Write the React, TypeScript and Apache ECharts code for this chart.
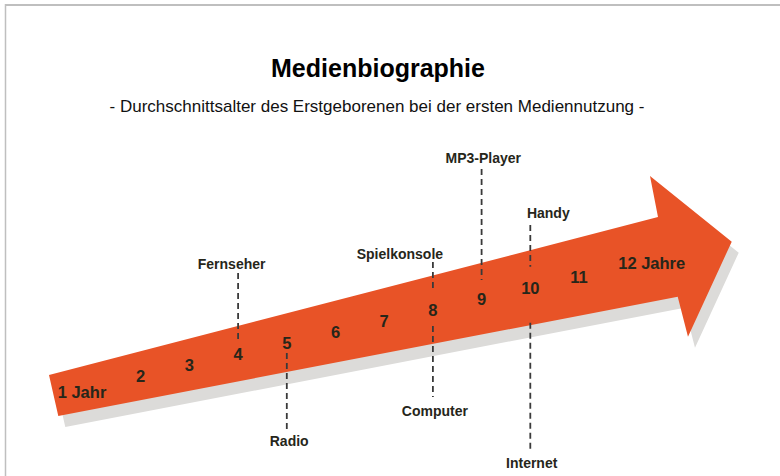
import React, { useEffect, useRef } from "react";
import * as echarts from "echarts";

// ---- data ----
const ages = [1, 2, 3, 4, 5, 6, 7, 8, 9, 10, 11, 12];
const ageLabels = ["1 Jahr", "2", "3", "4", "5", "6", "7", "8", "9", "10", "11", "12 Jahre"];
const mediaNames = ["Fernseher", "Radio", "Spielkonsole", "Computer", "MP3-Player", "Handy", "Internet"];
const mediaAges = [4, 5, 8, 8, 9, 10, 10];

// ---- layout (levels on the hidden vertical axis, pixel nudges) ----
const ageLabelDx = [-10, 0, 0, 0, 0, 0, 0, 0, 0, 0, 0, 24];
const ageLabelDy = [5, 0, 0, 0, 0, 0, 0, 0, 0, 0, 0, -2.4];
const mediaLabelLevel = [12.16, -3.89, 13.04, -1.17, 21.74, 16.75, -5.91];
const mediaLineFrom = [11.34, 4.09, 12.34, 6.54, 20.77, 15.69, 6.84];
const mediaLineTo = [5.27, -3.07, 9.8, 0.1, 10.71, 11.91, -4.77];
const mediaLabelDx = [-6.5, 2.4, -33, 2, 1.7, 18, 1.4];
const arrowOutline: number[][] = [
  [0.117, 2.094],
  [12.622, 16.42],
  [12.458, 20.14],
  [14.136, 14.18],
  [13.238, 5.57],
  [13.027, 9.19],
  [0.308, -1.62],
];

const FONT = '"Liberation Sans", Arial, Helvetica, sans-serif';
const TEXT_COLOR = "#26261a";

export default function App() {
  const ref = useRef<HTMLDivElement>(null);

  useEffect(() => {
    document.body.style.margin = "0";
    const chart = echarts.init(ref.current!, undefined, { renderer: "svg" });
    const option: any = {
      animation: false,
      backgroundColor: "#ffffff",
      grid: { left: 43.3, right: 6.2, top: 67.2, bottom: 11.72 },
      xAxis: { type: "value", min: 0, max: 15, show: false },
      yAxis: { type: "value", min: -6, max: 30, show: false },
      graphic: [
        {
          type: "line",
          shape: { x1: 5, y1: 5, x2: 780, y2: 5 },
          style: { stroke: "#bfbfbf", lineWidth: 2 },
        },
        {
          type: "line",
          shape: { x1: 5.5, y1: 4, x2: 5.5, y2: 476 },
          style: { stroke: "#bfbfbf", lineWidth: 1.5 },
        },
        {
          type: "text",
          x: 378,
          y: 67.5,
          style: {
            text: "Medienbiographie",
            font: `bold 25px ${FONT}`,
            fill: "#000000",
            textAlign: "center",
            textVerticalAlign: "middle",
          },
        },
        {
          type: "text",
          x: 377,
          y: 106,
          style: {
            text: "- Durchschnittsalter des Erstgeborenen bei der ersten Mediennutzung -",
            font: `17px ${FONT}`,
            fill: "#111111",
            textAlign: "center",
            textVerticalAlign: "middle",
          },
        },
      ],
      series: [
        {
          type: "custom",
          clip: false,
          z: 1,
          data: [[0, 0]],
          renderItem: (params: any, api: any) => {
            const pts = arrowOutline.map((p) => api.coord(p));
            return {
              type: "group",
              children: [
                {
                  type: "polygon",
                  x: 7,
                  y: 11,
                  shape: { points: pts },
                  style: { fill: "#dcdbd9" },
                },
                {
                  type: "polygon",
                  shape: { points: pts },
                  style: { fill: "#e85327" },
                },
              ],
            };
          },
        },
        {
          type: "custom",
          clip: false,
          z: 2,
          data: mediaAges.map((a, i) => [a, mediaLineFrom[i], mediaLineTo[i]]),
          renderItem: (params: any, api: any) => {
            const p1 = api.coord([api.value(0), api.value(1)]);
            const p2 = api.coord([api.value(0), api.value(2)]);
            return {
              type: "line",
              shape: { x1: p1[0], y1: p1[1], x2: p2[0], y2: p2[1] },
              style: { stroke: "#3a3a3a", lineWidth: 1.8, lineDash: [6, 4] },
            };
          },
        },
        {
          type: "custom",
          clip: false,
          z: 3,
          data: ages.map((a) => [a, a]),
          renderItem: (params: any, api: any) => {
            const i = params.dataIndex;
            const p = api.coord([api.value(0), api.value(1)]);
            return {
              type: "text",
              x: p[0] + ageLabelDx[i],
              y: p[1] + ageLabelDy[i],
              style: {
                text: ageLabels[i],
                font: `bold 16.5px ${FONT}`,
                fill: TEXT_COLOR,
                textAlign: "center",
                textVerticalAlign: "middle",
              },
            };
          },
        },
        {
          type: "custom",
          clip: false,
          z: 3,
          data: mediaAges.map((a, i) => [a, mediaLabelLevel[i]]),
          renderItem: (params: any, api: any) => {
            const i = params.dataIndex;
            const p = api.coord([api.value(0), api.value(1)]);
            return {
              type: "text",
              x: p[0] + mediaLabelDx[i],
              y: p[1],
              style: {
                text: mediaNames[i],
                font: `bold 14px ${FONT}`,
                fill: TEXT_COLOR,
                textAlign: "center",
                textVerticalAlign: "middle",
              },
            };
          },
        },
      ],
    };
    chart.setOption(option);
    return () => chart.dispose();
  }, []);

  return (
    <div
      ref={ref}
      style={{ position: "fixed", left: 0, top: 0, width: 780, height: 476, background: "#fff" }}
    />
  );
}
